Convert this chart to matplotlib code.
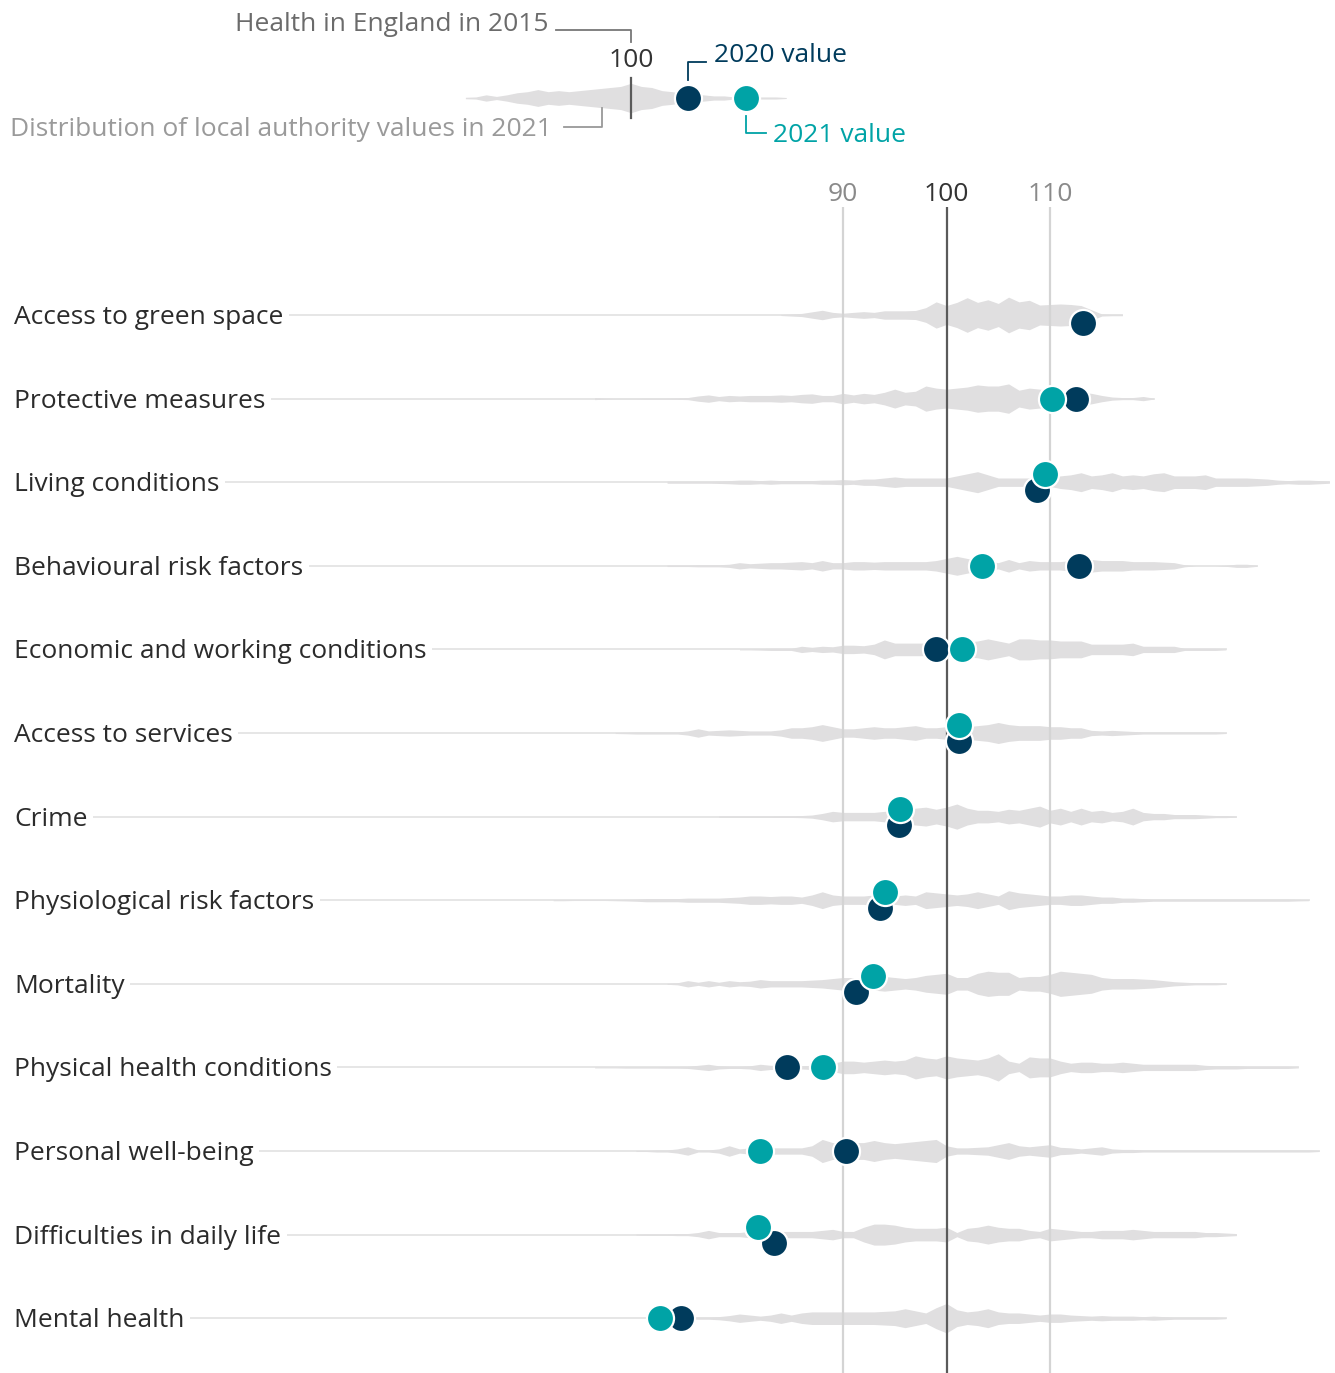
import numpy as np
import matplotlib.pyplot as plt
import matplotlib.transforms as mtransforms

plt.rcParams['font.family'] = ['Open Sans', 'DejaVu Sans']

# domain labels, top to bottom
categories = ["Access to green space", "Protective measures", "Living conditions",
              "Behavioural risk factors", "Economic and working conditions",
              "Access to services", "Crime", "Physiological risk factors", "Mortality",
              "Physical health conditions", "Personal well-being",
              "Difficulties in daily life", "Mental health"]

# index values (England 2015 = 100)
val_2020 = [113.2, 112.5, 108.7, 112.8, 99.0, 101.2, 95.4, 93.6, 91.3, 84.6, 90.3, 83.3, 74.3]
val_2021 = [np.nan, 110.2, 109.5, 103.4, 101.5, 101.2, 95.5, 94.1, 92.9, 88.1, 82.0, 81.8, 72.3]

# distribution of local authority values in 2021 (density at 1-point steps from dist_start)
dist_start = [84, 66, 73, 73, 80, 68, 78, 62, 73, 66, 70, 70, 75]
dist_density = [
    [0.5, 1, 1.5, 3, 4.5, 2.5, 1.7, 2.5, 3.2, 2.5, 4, 4, 4, 4.3, 7, 12.5, 9, 12, 16.5, 12,
     14.5, 11, 17, 12.5, 14, 9.5, 10, 10.5, 10, 9, 5, 1, 0.7, 0.7],
    [1, 0.5, 0.3, 0.3, 0.3, 0.5, 0.5, 0.5, 0.7, 1, 2.5, 3.5, 2, 3, 2.5, 3, 3, 3, 3.5, 3,
     4, 4.5, 3, 3, 5, 3.5, 5, 4, 6, 9, 6, 7, 12, 10, 9, 10, 11, 13, 12, 12,
     14, 8, 10, 9, 8, 7, 6, 6, 5, 3, 1.5, 1, 1, 2, 0.5],
    [1, 1, 1, 1, 1, 1.2, 1.5, 2, 2, 1.5, 2, 1.5, 1.5, 1.5, 1.5, 2, 2, 2.5, 2, 3,
     3, 4, 5, 4, 4, 4, 4, 4, 6, 8, 10, 7, 4, 4, 4, 4, 4, 4, 6, 7,
     9, 6, 7, 9, 6, 7, 6, 8, 9, 6, 6, 6, 7, 4, 4, 4, 4, 3.5, 3, 2,
     1.5, 2, 2, 1.5, 1],
    [0.7, 0.7, 0.7, 1, 1, 1, 1.5, 3, 2, 2.5, 3, 3, 3.5, 4, 3, 5, 3, 3, 4, 4,
     3.5, 4, 4, 4, 4, 4, 5, 7, 9, 7, 5, 4, 3, 6, 3, 5, 4, 4, 4, 5,
     5, 6, 5, 5, 5, 4, 4, 4, 3.5, 3, 1, 0, 0, 0, 0.5, 1.5, 1.5, 0.5],
    [0.5, 0.5, 0.7, 1, 1, 1, 3, 2, 3, 2.5, 4, 4, 3.5, 5, 9, 6, 6, 6, 6, 6,
     6, 7, 7, 8, 10, 8, 6, 10, 10, 9, 9, 8, 8, 8, 5, 5, 5, 5, 6, 3,
     3, 3, 3, 1, 1, 1, 1, 0.5],
    [0.5, 0.7, 1, 1, 1, 1, 1, 2, 4, 2, 2.5, 3, 2.5, 2, 2, 2, 3, 5, 5, 6,
     8, 6, 4, 4, 5, 6, 5, 5, 6, 7, 5, 5, 6, 6, 6, 7, 8, 10, 8, 7,
     7, 7, 6, 6, 5, 5, 2.5, 2, 2.5, 2, 1.5, 1, 1, 1, 1, 1, 1, 1, 1, 0.5],
    [0.7, 0.7, 0.7, 0.7, 0.7, 0.7, 0.8, 0.8, 1, 1.5, 3, 5, 4, 4, 4, 4, 5, 6, 7, 8,
     9, 7, 9, 12, 8, 6, 6, 5, 7, 6, 8, 10, 6, 8, 5, 8, 5, 6, 4, 5,
     8, 4, 3, 3, 2, 2, 2, 1.5, 1, 1, 0.5],
    [0.5, 0.5, 0.3, 0.3, 0.3, 0.3, 0.5, 0.7, 1, 1.5, 1.5, 1.5, 1.5, 2, 2, 2, 2, 2.5, 3, 4,
     4, 3.5, 4, 4, 3, 5, 8, 5, 4, 4, 4, 5, 5, 4, 5, 4, 8, 7, 6, 5,
     6, 8, 6, 4, 9, 7, 6, 5, 4, 4, 5, 5, 4, 3, 3, 2, 2, 1.5, 1, 1,
     1, 1, 1, 1, 1, 1, 1, 1, 1, 1, 1, 1, 0.7, 0.5],
    [0.5, 1, 3, 1.5, 3, 1.5, 3, 2, 2.5, 4, 3, 3, 3, 3, 3.5, 4, 5, 6, 6, 6,
     6, 7, 6, 5, 6, 8, 9, 10, 6, 6, 10, 12, 11, 11, 6, 7, 7, 9, 12, 11,
     10, 9, 6, 5, 5, 5, 4.5, 4, 3, 2, 1.5, 1, 1, 1, 0.5],
    [0.5, 0.5, 0.5, 0.7, 0.7, 0.7, 0.7, 0.8, 0.8, 1, 2, 3, 1.5, 1, 1, 1.5, 3, 2, 2, 2,
     1.5, 2, 3, 4, 6, 6, 5, 6, 7, 6, 7, 11, 9, 8, 11, 9, 8, 7, 9, 13,
     6, 4, 10, 9, 9, 6, 4, 5, 5, 4, 4, 5, 4, 3, 3, 3, 3, 3, 3, 2,
     1.5, 1.5, 1.5, 1, 1, 1, 1, 1, 0.5],
    [0.5, 0.5, 1, 1, 2, 4, 1, 1, 2, 5, 2, 3, 3, 3, 3, 3, 3, 5, 11, 8,
     7, 8, 8, 10, 8, 7, 8, 9, 10, 11, 5, 3, 3, 3.5, 4, 6, 8, 5, 4, 5,
     6, 3.5, 3, 2, 3, 4, 2, 1.5, 1.5, 1, 1, 1, 1, 1, 1, 1, 1, 1, 1, 1,
     1, 1, 1, 1, 1, 1, 0.5],
    [0.5, 0.7, 0.7, 0.7, 1, 1, 2, 4, 2, 2, 2, 3, 3, 3, 3, 3, 3, 3, 4, 5,
     3, 3, 7, 10, 10, 9, 7, 6, 6, 6, 7, 2, 6, 7, 9, 7, 6, 6, 4, 3,
     6, 5, 4, 3, 3, 4, 4, 4, 5, 4, 3, 3, 3, 3, 3, 2, 2, 1.5, 1],
    [0.5, 1, 1, 1.5, 2.5, 4, 3, 2, 3, 5, 3, 5, 6, 6, 6, 6, 6, 6, 6, 6.5,
     7, 9, 7, 5, 10, 14, 8, 6, 7, 9, 6, 5, 5, 4, 3, 4, 4, 3, 2.5, 2,
     2.5, 2, 2, 2, 1.5, 2, 1.5, 1, 1, 1, 1, 1, 0.5],
]

# legend example row
legend_2020 = 105.5
legend_2021 = 111.1
legend_start = 84
legend_density = [0.7, 1, 3, 1.5, 3, 5, 6, 8, 6, 7, 6, 7, 8, 9, 10, 11, 14, 11, 10, 7,
                  6, 4, 3, 3, 2, 2, 1, 1, 1, 1, 1, 0.5]

navy = "#003b5c"
teal = "#00a3a6"
dist_col = "#e0dfe0"
row_line_col = "#e4e4e4"

W, H = 1335, 1373
ppu = 10.35          # pixels per index point
x0_main = 946.5      # pixel position of 100 in main chart
x0_leg = 631         # pixel position of 100 in legend
row_top, row_gap = 315, 83.6
dens_scale = 1.05
tdy = 2.5            # small downward nudge for text

fig = plt.figure(figsize=(W / 100, H / 100), dpi=100)
ax = fig.add_axes([0, 0, 1, 1])
ax.set_xlim(100 - x0_main / ppu, 100 + (W - x0_main) / ppu)
ax.set_ylim(H, 0)
ax.axis("off")

lax = fig.add_axes([0, 0, 1, 1])
lax.set_xlim(100 - x0_leg / ppu, 100 + (W - x0_leg) / ppu)
lax.set_ylim(H, 0)
lax.axis("off")
lax.patch.set_alpha(0)

fs = 19
label_x = 14 / W
lab_trans = mtransforms.blended_transform_factory(ax.transAxes, ax.transData)

# grid lines and tick labels
for v, c, tc in [(90, "#d4d4d4", "#8a8a8a"), (100, "#5a5a5a", "#333333"), (110, "#d4d4d4", "#8a8a8a")]:
    ax.plot([v, v], [207, H], color=c, lw=1.6, zorder=2, solid_capstyle="butt")
    ax.text(v, 192 + tdy, str(v), ha="center", va="center", fontsize=fs, color=tc)


def draw_dist(axis, start, dens, yc):
    xs = start + np.arange(len(dens))
    d = np.array(dens, dtype=float) * dens_scale
    axis.fill_between(xs, yc - d, yc + d, color=dist_col, lw=0, zorder=1)
    return xs[-1]


x_label = 100 - (x0_main - 14) / ppu
for i, cat in enumerate(categories):
    yc = row_top + i * row_gap
    x_end = draw_dist(ax, dist_start[i], dist_density[i], yc)
    ax.plot([x_label + 3, x_end], [yc, yc], color=row_line_col, lw=1.3, zorder=0.5)
    ax.text(label_x, yc + tdy, cat, transform=lab_trans,
            ha="left", va="center", fontsize=fs, color="#2b2b2b", zorder=3,
            bbox=dict(facecolor="white", edgecolor="none", pad=4))

    a, b = val_2020[i], val_2021[i]
    off = 0
    if np.isnan(b) or abs(a - b) < 1.8:
        off = 8
    ax.scatter([a], [yc + off], s=380, color=navy, edgecolor="white", lw=1.6, zorder=4)
    if not np.isnan(b):
        ax.scatter([b], [yc - off], s=380, color=teal, edgecolor="white", lw=1.6, zorder=5)

# ---- legend ----
ly = 98
draw_dist(lax, legend_start, legend_density, ly)
lax.plot([100, 100], [78, 118], color="#5a5a5a", lw=1.6, zorder=2)
lax.text(100, 58 + tdy, "100", ha="center", va="center", fontsize=fs, color="#333333")
lax.scatter([legend_2020], [ly], s=380, color=navy, edgecolor="white", lw=1.6, zorder=4)
lax.scatter([legend_2021], [ly], s=380, color=teal, edgecolor="white", lw=1.6, zorder=5)


def px(p):
    return 100 + (p - x0_leg) / ppu


lax.plot([px(556), 100, 100], [30, 30, 42], color="#777777", lw=1.3)
lax.text(px(549), 22 + tdy, "Health in England in 2015", ha="right", va="center", fontsize=fs,
         color="#6b6b6b")
lax.plot([px(564), px(602), px(602)], [127, 127, 108], color="#999999", lw=1.3)
lax.text(px(10), 127 + tdy, "Distribution of local authority values in 2021", ha="left", va="center",
         fontsize=fs, color="#9a9a9a")
lax.plot([legend_2020, legend_2020, px(706)], [80, 62, 62], color=navy, lw=1.3)
lax.text(px(714), 53 + tdy, "2020 value", ha="left", va="center", fontsize=fs, color=navy)
lax.plot([legend_2021, legend_2021, px(766)], [116, 133, 133], color=teal, lw=1.3)
lax.text(px(773), 133 + tdy, "2021 value", ha="left", va="center", fontsize=fs, color=teal)

fig.savefig("out.png", dpi=100)
